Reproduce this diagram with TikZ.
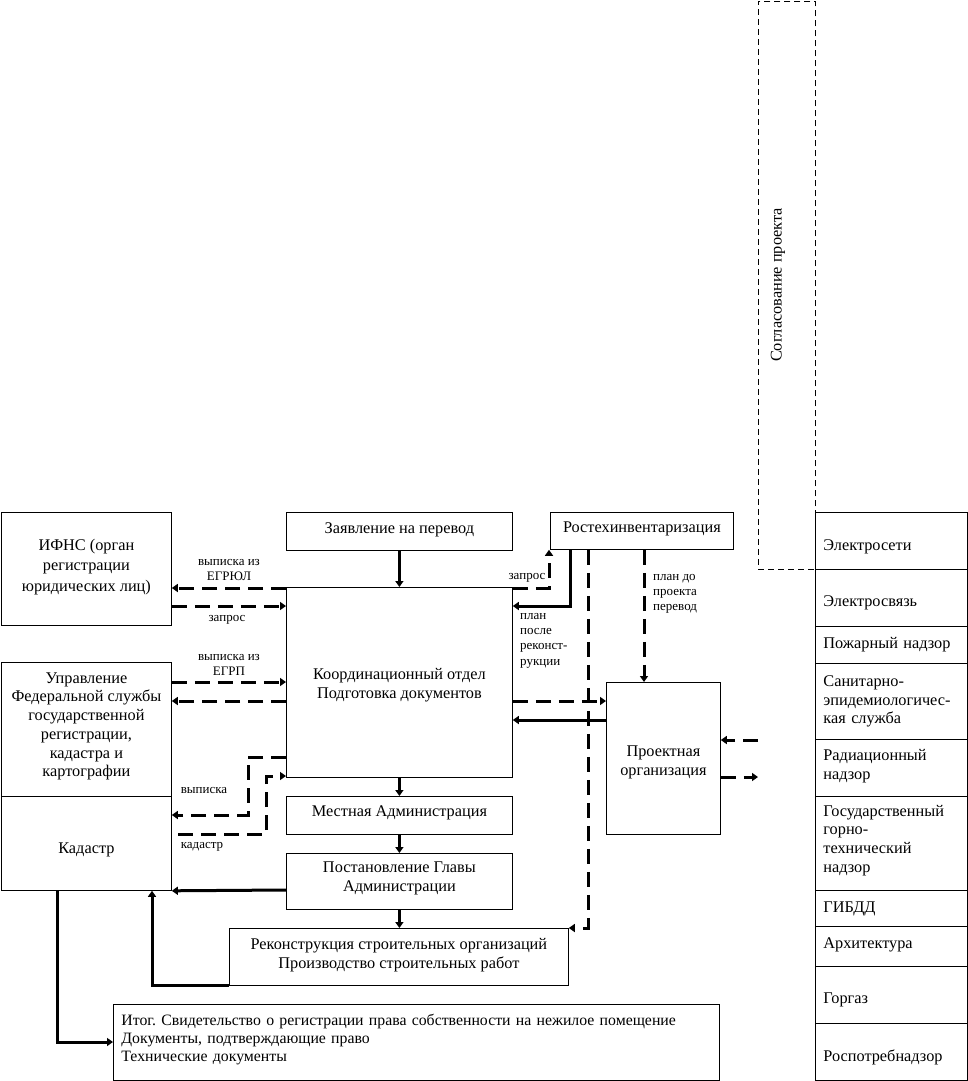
\documentclass[tikz,border=0pt]{standalone}
\usepackage{fontspec}
\setmainfont{Liberation Serif}
\usetikzlibrary{arrows.meta}
\frenchspacing
\newcommand\bigf{\fontsize{16.3}{18.7}\selectfont}
\newcommand\itogf{\fontsize{15.8}{18.3}\selectfont}
\newcommand\smallf{\fontsize{13}{15.3}\selectfont}
\newcommand\shiftdn[2]{\raisebox{-#1pt}[\height][\depth]{#2}}
\tikzset{
  box/.style={draw, line width=0.8pt, inner sep=2pt, align=center, font=\bigf, anchor=north west},
  rbox/.style={draw, line width=0.8pt, inner xsep=8pt, align=left, text width=136pt, font=\bigf, anchor=north west, minimum width=152pt},
  flow/.style={line width=3pt, -{Triangle[length=6pt,width=8pt]}},
  dflow/.style={flow, dash pattern=on 15pt off 8pt},
  lbl/.style={font=\smallf, align=left, inner sep=0pt}
}
\begin{document}
\begin{tikzpicture}[x=1pt,y=-1pt]
\useasboundingbox (0,0) rectangle (968,1081);
% boxes
\node[box, minimum width=170pt, minimum height=113pt] (ifns) at (1,512) {\shiftdn{-4}{ИФНС (орган}\\\shiftdn{-2}{регистрации}\\юридических лиц)};
\node[box, minimum width=226pt, minimum height=38pt] (zav) at (286,512) {\shiftdn{-2}{Заявление на перевод}};
\node[box, minimum width=183pt, minimum height=37pt] (rost) at (550,512) {\shiftdn{-2}{Ростехинвентаризация}};
\node[box, dashed, line width=0.6pt, dash pattern=on 6pt off 4pt, minimum width=57pt, minimum height=568pt] (sogl) at (758,1) {};
\node[font=\bigf, rotate=90, inner sep=0pt] (soglt) at (778,285) {Согласование проекта};
\node[box, minimum width=226pt, minimum height=190pt] (coord) at (286,587) {\shiftdn{3}{Координационный отдел}\\\shiftdn{3}{Подготовка документов}};
\node[box, minimum width=170pt, minimum height=134pt] (upr) at (1,662) {\shiftdn{-3}{Управление}\\\shiftdn{-3}{Федеральной службы}\\\shiftdn{-3}{государственной}\\\shiftdn{-3}{регистрации,}\\\shiftdn{-3}{кадастра и}\\\shiftdn{-3}{картографии}};
\node[box, minimum width=170pt, minimum height=94pt] (kad) at (1,796) {\shiftdn{6}{Кадастр}};
\node[box, minimum width=226pt, minimum height=38pt] (mest) at (286,796) {\shiftdn{-3}{Местная Администрация}};
\node[box, minimum width=226pt, minimum height=56pt] (post) at (286,853) {\shiftdn{-3}{Постановление Главы}\\\shiftdn{-3}{Администрации}};
\node[box, minimum width=339pt, minimum height=57pt] (rek) at (229,928) {\shiftdn{-2}{Реконструкция строительных организаций}\\\shiftdn{-2}{Производство строительных работ}};
\node[box, minimum width=114pt, minimum height=152pt] (proj) at (606,682) {\shiftdn{4}{Проектная}\\\shiftdn{4}{организация}};
\node[box, align=left, text width=590pt, inner xsep=8pt, minimum height=76pt, font=\itogf] (itog) at (113,1004) {\shiftdn{-3}{Итог. Свидетельство о регистрации права собственности на нежилое помещение}\\\shiftdn{-3}{Документы, подтверждающие право}\\\shiftdn{-3}{Технические документы}};
% right column
\node[rbox, minimum height=57pt] (r1) at (815,512) {\shiftdn{6}{Электросети}};
\node[rbox, minimum height=57pt] (r2) at (815,569) {\shiftdn{5}{Электросвязь}};
\node[rbox, minimum height=37pt] (r3) at (815,626) {Пожарный надзор};
\node[rbox, minimum height=76pt] (r4) at (815,663) {Санитарно-\\эпидемиологичес-\\кая служба};
\node[rbox, minimum height=57pt] (r5) at (815,739) {\shiftdn{-2}{Радиационный}\\\shiftdn{-2}{надзор}};
\node[rbox, minimum height=94pt] (r6) at (815,796) {\shiftdn{-3}{Государственный}\\\shiftdn{-3}{горно-}\\\shiftdn{-3}{технический}\\\shiftdn{-3}{надзор}};
\node[rbox, minimum height=36pt] (r7) at (815,890) {ГИБДД};
\node[rbox, minimum height=40pt] (r8) at (815,926) {\shiftdn{-2}{Архитектура}};
\node[rbox, minimum height=57pt] (r9) at (815,966) {\shiftdn{5}{Горгаз}};
\node[rbox, minimum height=57pt] (r10) at (815,1023) {\shiftdn{5}{Роспотребнадзор}};
% coordinates for free ends
\coordinate (sg1) at (758,740);
\coordinate (sg2) at (758,777);
% vertical main chain
\draw[flow] (zav) -- (coord);
\draw[flow] (coord) -- (mest);
\draw[flow] (mest) -- (post);
\draw[flow] (post.south) -- (post.south |- rek.north);
% IFNS
\draw[dflow] (coord.west |- 0,588) -- (ifns.east |- 0,588);
\draw[dflow] (ifns.east |- 0,606) -- (coord.west |- 0,606);
\node[lbl, align=center] (l1) at (229,570) {выписка из\\ЕГРЮЛ};
\node[lbl] (l2) at (227,620) {запрос};
% Upravlenie
\draw[dflow] (upr.east |- 0,682) -- (coord.west |- 0,682);
\draw[dflow] (coord.west |- 0,701) -- (upr.east |- 0,701);
\node[lbl, align=center] (l3) at (229,665) {выписка из\\ЕГРП};
% Kadastr dashed
\draw[dflow] (coord.west |- 0,757) -- (248,757) -- (248,815) -- (kad.east |- 0,815);
\draw[dflow] (178,834) -- (266,834) -- (266,776) -- (coord.west |- 0,776);
\node[lbl] (l4) at (204,790) {выписка};
\node[lbl] (l5) at (202,847) {кадастр};
% Post -> Kadastr
\draw[flow] (post.west |- 0,890) -- (kad.south east);
% Rek -> Kadastr
\draw[flow] (rek.west |- 0,985) -- (152,985) -- (kad.south -| 152,0);
% Kadastr -> Itog
\draw[flow] (kad.south -| 57,0) -- (57,1042) -- (itog.west |- 0,1042);
% Rost connections
\draw[dflow] (coord.east |- 0,588) -- (549,588) -- (rost.south -| 549,0);
\node[lbl] (l6) at (527,578) {запрос};
\draw[flow] (rost.south -| 570,0) -- (570,606) -- (coord.east |- 0,606);
\node[lbl, anchor=north west, align=left] (l7) at (520,613) {план\\после\\реконст-\\рукции};
\draw[dflow] (rost.south -| 588,0) -- (588,928) -- (rek.east |- 0,928);
\draw[dflow] (rost.south -| 644,0) -- (proj.north -| 644,0);
\node[lbl, anchor=north west, align=left] (l8) at (653,574) {план до\\проекта\\перевод};
% Coord <-> Proj
\draw[dflow] (coord.east |- 0,701) -- (proj.west |- 0,701);
\draw[flow] (proj.west |- 0,720) -- (coord.east |- 0,720);
% Proj <-> Soglasovanie
\draw[dflow] (sg1) -- (proj.east |- sg1);
\draw[dflow] (proj.east |- sg2) -- (sg2);
\end{tikzpicture}
\end{document}
